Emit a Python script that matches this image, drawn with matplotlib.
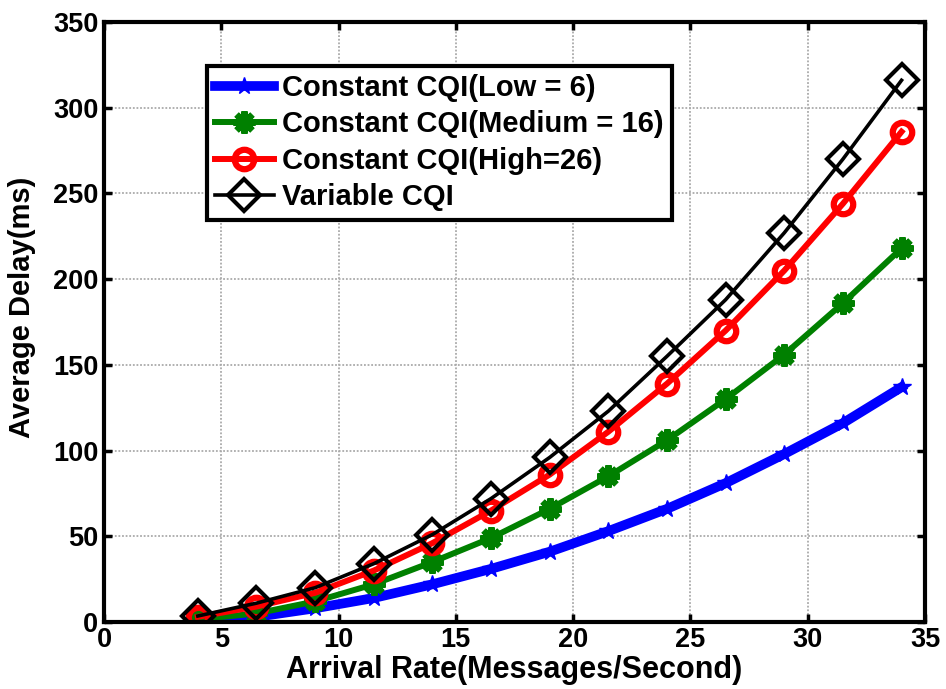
import matplotlib
matplotlib.use("Agg")
import matplotlib.pyplot as plt

plt.rcParams['font.family'] = ['Liberation Sans', 'DejaVu Sans']
plt.rcParams['font.weight'] = 'bold'

arrival_rate = [4, 6.5, 9, 11.5, 14, 16.5, 19, 21.5, 24, 26.5, 29, 31.5, 34]
delay_low = [1, 3, 8, 14, 22, 31, 41, 53, 66, 81, 98, 116, 137]
delay_medium = [1.5, 5, 12, 22, 35, 49, 66, 85, 106, 130, 156, 186, 218]
delay_high = [3, 9, 17, 30, 46, 65, 86, 111, 139, 170, 205, 244, 286]
delay_variable = [3.5, 11, 20, 34, 51, 72, 96, 123, 155, 188, 227, 270, 316]

labels = ['Constant CQI(Low = 6)', 'Constant CQI(Medium = 16)',
          'Constant CQI(High=26)', 'Variable CQI']

fig = plt.figure(figsize=(9.46, 6.89), dpi=100)
ax = fig.add_axes([104 / 946, 67 / 689, 821 / 946, 600 / 689])

ax.plot(arrival_rate, delay_low, color='#0000ff', lw=7, marker='*',
        markersize=13, label=labels[0])
ax.plot(arrival_rate, delay_medium, color='#008000', lw=4.3, marker=(8, 2, 0),
        markersize=16, markeredgewidth=4.5, label=labels[1])
ax.plot(arrival_rate, delay_high, color='#ff0000', lw=4.3, marker='o',
        markersize=14, markerfacecolor='none', markeredgewidth=4.5,
        label=labels[2])
ax.plot(arrival_rate, delay_variable, color='black', lw=2.6, marker='D',
        markersize=16, markerfacecolor='none', markeredgewidth=3,
        label=labels[3])

ax.set_xlim(0, 35)
ax.set_ylim(0, 350)
ax.set_xticks(range(0, 36, 5))
ax.set_yticks(range(0, 351, 50))
ax.grid(True, color='#aaaaaa', linestyle=(0, (1, 1)), linewidth=1.3)
ax.tick_params(direction='in', length=6, width=2.5, labelsize=19.5,
               top=True, right=True)
ax.tick_params(axis='x', pad=3.5)
ax.tick_params(axis='y', pad=4)
for lab in ax.get_xticklabels() + ax.get_yticklabels():
    lab.set_fontweight('bold')
for s in ax.spines.values():
    s.set_linewidth(3)

ax.set_xlabel('Arrival Rate(Messages/Second)', fontsize=22, fontweight='bold')
ax.xaxis.set_label_coords(0.5, -0.0555)
ax.set_ylabel('Average Delay(ms)', fontsize=21, fontweight='bold')
ax.yaxis.set_label_coords(-0.083, 0.525)

leg = ax.legend(loc='upper left', bbox_to_anchor=(0.1255, 0.927), fontsize=21,
                frameon=True, fancybox=False, edgecolor='black', framealpha=1,
                handlelength=2.0, borderpad=0.28, labelspacing=0.29,
                handletextpad=0.3, borderaxespad=0)
leg.get_frame().set_linewidth(3)
for t in leg.get_texts():
    t.set_fontweight('bold')

fig.savefig('out.png', dpi=100)
